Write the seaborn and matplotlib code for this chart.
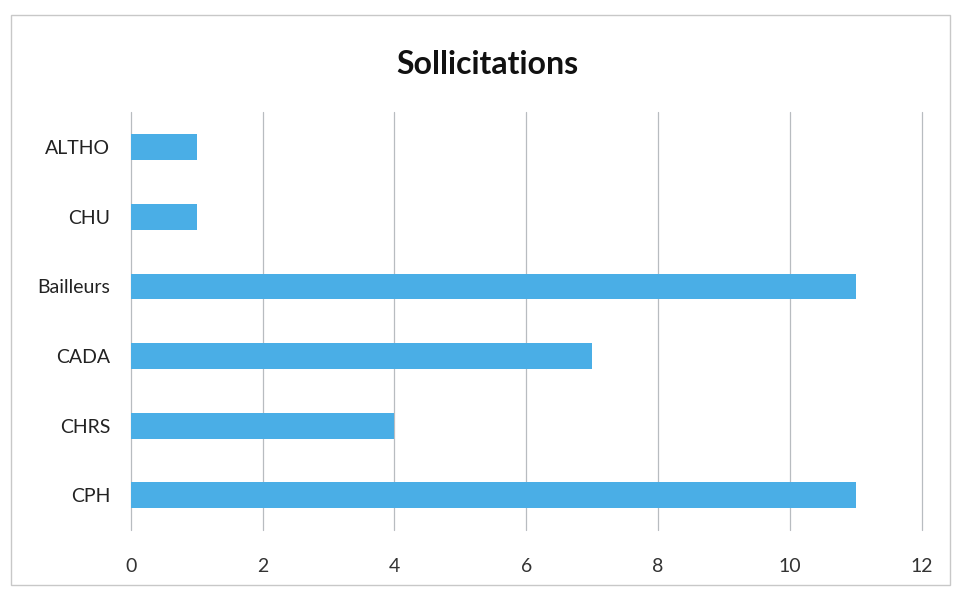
import matplotlib
matplotlib.use("Agg")
import matplotlib.pyplot as plt
import seaborn as sns
import pandas as pd
from matplotlib.patches import Rectangle

categories = ["ALTHO", "CHU", "Bailleurs", "CADA", "CHRS", "CPH"]
values = [1, 1, 11, 7, 4, 11]
x_ticks = [0, 2, 4, 6, 8, 10, 12]

sns.set_theme(style="white")
plt.rcParams["font.family"] = ["Lato", "DejaVu Sans"]

df = pd.DataFrame({"categorie": categories, "nombre": values})

fig = plt.figure(figsize=(9.55, 5.91), dpi=100)
ax = fig.add_axes([0.137, 0.103, 0.828, 0.707])

sns.barplot(data=df, x="nombre", y="categorie", order=categories,
            color="#4aaee6", saturation=1, width=0.37, linewidth=0, ax=ax)

ax.set_xlim(0, 12)
ax.set_ylim(5.5, -0.5)
ax.set_xticks(x_ticks)
ax.set_xticklabels([str(t) for t in x_ticks], fontsize=14, color="#333333")
ax.tick_params(axis="y", labelsize=14, colors="#222222", length=0, pad=15)
ax.tick_params(axis="x", length=0, pad=20)
ax.set_xlabel("")
ax.set_ylabel("")
ax.xaxis.grid(True, color="#b8bcc0", linewidth=0.9)
for gl in ax.get_xgridlines():
    gl.set_clip_on(False)
ax.set_axisbelow(True)
for s in ax.spines.values():
    s.set_visible(False)

fig.suptitle("Sollicitations", x=0.51, y=0.915, fontsize=23, fontweight="bold",
             color="#111111")

# chart area frame
fig.patches.append(Rectangle((0.012, 0.01), 0.983, 0.965, transform=fig.transFigure,
                             fill=False, edgecolor="#c8c8c8", linewidth=1))

fig.savefig("out.png", dpi=100)
